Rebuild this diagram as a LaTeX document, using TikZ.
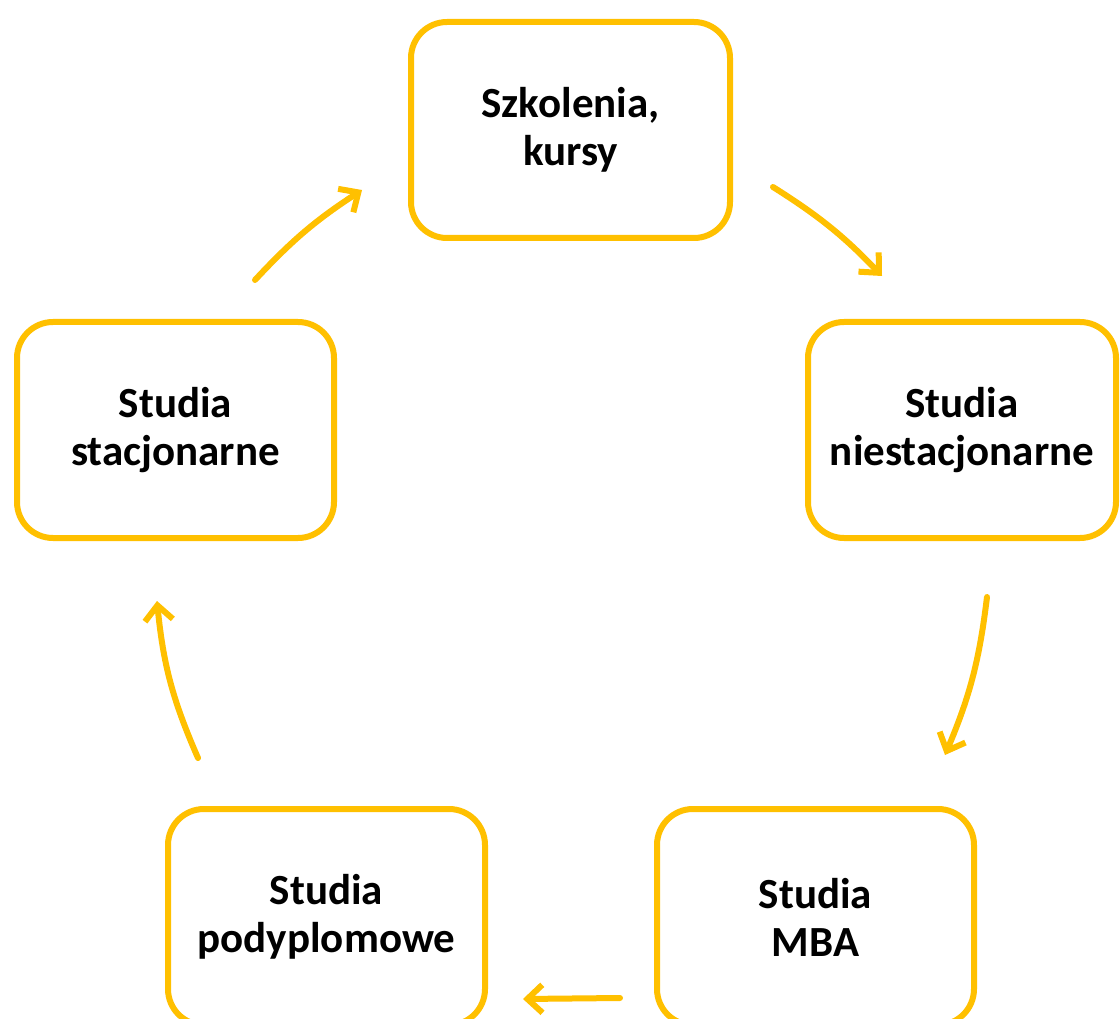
\documentclass[tikz,border=0pt]{standalone}
\usepackage{fontspec}
\setmainfont{Carlito}
\usetikzlibrary{arrows.meta}
\definecolor{gold}{HTML}{FFC000}
\tikzset{
  box/.style={draw=gold, line width=6pt, rounded corners=36pt, fill=white,
    minimum height=216pt, align=center, inner sep=0pt,
    font=\bfseries\fontsize{43}{48}\selectfont},
  flow/.style={draw=gold, line width=6pt, line cap=round,
    -{Straight Barb[length=15pt,width=28pt,line width=6pt]}}
}
\begin{document}
\begin{tikzpicture}[x=1pt,y=-1pt]
\useasboundingbox[fill=white] (0,0) rectangle (1120,1019);
\node[box, minimum width=319pt] (top) at (570.5,130) {Szkolenia,\\kursy};
\node[box, minimum width=308pt] (right) at (962,430) {Studia\\niestacjonarne};
\node[box, minimum width=317pt] (mba) at (815.5,917) {Studia\\MBA};
\node[box, minimum width=317pt] (pod) at (326.5,917) {Studia\\podyplomowe};
\node[box, minimum width=317pt] (left) at (175.5,430) {Studia\\stacjonarne};
\coordinate (a1s) at (773,187);  \coordinate (a1e) at (882,276);
\coordinate (a2s) at (987,597);  \coordinate (a2e) at (945,755);
\coordinate (a3s) at (620,998);  \coordinate (a3e) at (523,999);
\coordinate (a4s) at (198,758);  \coordinate (a4e) at (157,601);
\coordinate (a5s) at (255,280);  \coordinate (a5e) at (362,190);
\draw[flow] (a1s) to[bend left=7] (a1e);
\draw[flow] (a2s) to[bend left=8] (a2e);
\draw[flow] (a3s) -- (a3e);
\draw[flow] (a4s) to[bend left=9] (a4e);
\draw[flow] (a5s) to[bend left=7] (a5e);
\end{tikzpicture}
\end{document}
